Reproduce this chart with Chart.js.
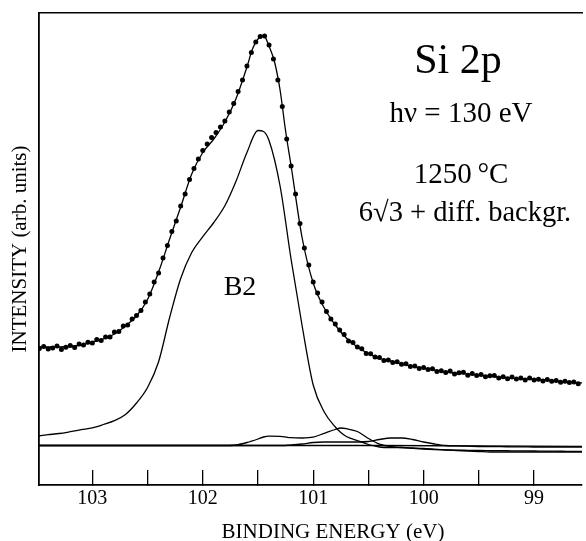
<!DOCTYPE html>
<html>
<head>
<meta charset="utf-8">
<script src="https://cdn.jsdelivr.net/npm/chart.js@4.4.1/dist/chart.umd.min.js"></script>
<style>
  html, body { margin: 0; padding: 0; background: #fff; }
  #chart { display: block; }
</style>
</head>
<body>
<canvas id="chart" width="586" height="541"></canvas>
<script>
// measured points, binding energy (eV)
const dotEnergies = [
  103.48, 103.44, 103.40, 103.36, 103.32, 103.28, 103.24, 103.20, 103.16, 103.12,
  103.08, 103.04, 103.00, 102.96, 102.92, 102.88, 102.84, 102.80, 102.76, 102.72,
  102.68, 102.64, 102.60, 102.56, 102.52, 102.48, 102.44, 102.40, 102.36, 102.32,
  102.28, 102.24, 102.20, 102.16, 102.12, 102.08, 102.04, 102.00, 101.96, 101.92,
  101.88, 101.84, 101.80, 101.76, 101.72, 101.68, 101.64, 101.60, 101.56, 101.52,
  101.48, 101.44, 101.40, 101.36, 101.32, 101.28, 101.24, 101.20, 101.16, 101.12,
  101.08, 101.04, 101.00, 100.96, 100.92, 100.88, 100.84, 100.80, 100.76, 100.72,
  100.68, 100.64, 100.60, 100.56, 100.52, 100.48, 100.44, 100.40, 100.36, 100.32,
  100.28, 100.24, 100.20, 100.16, 100.12, 100.08, 100.04, 100.00, 99.96, 99.92,
  99.88, 99.84, 99.80, 99.76, 99.72, 99.68, 99.64, 99.60, 99.56, 99.52,
  99.48, 99.44, 99.40, 99.36, 99.32, 99.28, 99.24, 99.20, 99.16, 99.12,
  99.08, 99.04, 99.00, 98.96, 98.92, 98.88, 98.84, 98.80, 98.76, 98.72,
  98.68, 98.64, 98.60
];
const dotIntensity = [
  97, 99, 96.5, 97.5, 99.5, 96, 98.3, 100, 98, 101.5,
  100.5, 103.3, 102.5, 106, 105, 108.5, 108.5, 113.5, 114, 119.5,
  120.5, 126.5, 130, 135, 143.5, 151.5, 163.5, 172.5, 187.5, 200,
  214, 224.5, 239.5, 251.5, 266, 277, 286.5, 295, 301.5, 308,
  313, 318.5, 324.5, 333.5, 342, 354, 365.5, 379.5, 393, 403.5,
  409, 409.5, 400.5, 386.5, 365.5, 339, 306.5, 279.5, 251.5, 222,
  197.5, 180.5, 163.5, 152.5, 143.5, 134, 126.5, 121.5, 115.5, 111,
  104.5, 103, 98.5, 96.8, 92, 91.8, 88.4, 88, 85, 85.5,
  83, 83.8, 81.2, 81.8, 78.9, 79.4, 77, 78.1, 75.9, 76.7,
  73.9, 74.7, 73, 74.6, 71.6, 72.7, 73.2, 70.3, 71.9, 70,
  71.1, 68.7, 69.8, 69.9, 67.5, 68.7, 66.8, 68.4, 66.6, 67.4,
  65.6, 67.4, 65.6, 66.3, 64.5, 66.1, 64.3, 65, 63.2, 64.3,
  63, 63.6, 61.8
];

// total fit
const fitEnergies = [
  103.5, 103.4, 103.3, 103.2, 103.1, 103.0, 102.9, 102.8, 102.7, 102.6,
  102.5, 102.4, 102.3, 102.2, 102.1, 102.0, 101.9, 101.8, 101.7, 101.6,
  101.55, 101.5, 101.45, 101.4, 101.35, 101.3, 101.25, 101.2, 101.1, 101.0,
  100.9, 100.8, 100.7, 100.6, 100.5, 100.4, 100.3, 100.2, 100.0, 99.8,
  99.6, 99.4, 99.2, 99.0, 98.8, 98.6, 98.5
];
const fitIntensity = [
  98.5, 98.5, 98.5, 99, 100.5, 103.5, 106.5, 111.5, 119.5, 129.5,
  146, 173.5, 206.5, 238.5, 271.5, 293, 306.5, 323.5, 346.5, 378.5,
  396.5, 406.5, 410, 399.5, 383.5, 355.5, 314.5, 279.5, 207.5, 162.5,
  137.5, 120.5, 107.5, 98.5, 91.8, 87, 84.5, 81.7, 77.1, 73.5,
  71.3, 69.3, 67.4, 66.1, 64.5, 62.8, 62.3
];

// fit components
const compEnergies = [
  103.5, 103.4, 103.3, 103.2, 103.1, 103.0, 102.9, 102.8, 102.7, 102.6,
  102.5, 102.4, 102.3, 102.2, 102.1, 102.0, 101.9, 101.8, 101.7, 101.6,
  101.5, 101.45, 101.4, 101.3, 101.2, 101.1, 101.0, 100.9, 100.8, 100.75,
  100.7, 100.6, 100.5, 100.4, 100.3, 100.2, 100.1, 100.0, 99.9, 99.8,
  99.7, 99.6, 99.5, 99.4, 99.3, 99.2, 99.1, 99.0, 98.9, 98.8,
  98.7, 98.6, 98.5
];
const b2Intensity = [
  9.5, 10.8, 12, 13.8, 15.8, 17.7, 21, 24.8, 31, 42.5,
  58, 83.8, 128, 167, 193, 208.8, 223, 239.7, 264, 293,
  315, 314, 305, 259.5, 186, 119.5, 60.5, 33.5, 18.5, 13,
  9, 5, 1, -1.5, -2, -2, -2.5, -3, -3.8, -4.5,
  -5, -5.5, -6, -6.5, -6.5, -6.5, -6.5, -6.5, -6.5, -6.5,
  -6.5, -6.5, -6.5
];
const s1Intensity = [
  0, 0, 0, 0, 0, 0, 0, 0, 0, 0,
  0, 0, 0, 0, 0, 0, 0, 0, 0.5, 3,
  6.5, 8.5, 9.3, 9.2, 7.8, 7.5, 8.3, 12.2, 16, 17.5,
  16.8, 14, 7, 1.3, -1, -2, -2.8, -3.5, -4, -4.3,
  -4.6, -4.8, -5, -5.1, -5.2, -5.3, -5.4, -5.5, -5.6, -5.7,
  -5.8, -5.9, -6
];
const s2Intensity = [
  0, 0, 0, 0, 0, 0, 0, 0, 0, 0,
  0, 0, 0, 0, 0, 0, 0, 0, 0, 0,
  0, 0, 0, 0, 0.5, 1.5, 3, 3.5, 3.5, 3.5,
  3.5, 3.5, 4, 6, 7.5, 7.5, 6, 3.5, 1.5, 0,
  -0.4, -0.7, -1, -1.1, -1.2, -1.3, -1.4, -1.5, -1.5, -1.5,
  -1.5, -1.5, -1.5
];
const bgEnergies = [103.5, 100.4, 98.5];
const bgIntensity = [0, 0, -1];

const tickValues = [99, 99.5, 100, 100.5, 101, 101.5, 102, 102.5, 103];

const SERIF = '"Liberation Serif", "Times New Roman", Times, serif';
const X_MIN = 98.566;
const X_MAX = 103.483;

function points(xs, ys) {
  return xs.map((x, i) => ({ x: x, y: ys[i] }));
}

function curve(label, xs, ys) {
  return {
    label: label,
    data: points(xs, ys),
    borderColor: '#000',
    borderWidth: 1.3,
    pointRadius: 0,
    fill: false,
    cubicInterpolationMode: 'monotone',
  };
}

// free text on the plot
const textPlugin = {
  id: 'plotText',
  afterDraw(chart) {
    const ctx = chart.ctx;
    ctx.save();
    ctx.fillStyle = '#000';
    ctx.textAlign = 'center';
    ctx.textBaseline = 'alphabetic';
    const put = (text, size, x, y) => {
      ctx.font = size + 'px ' + SERIF;
      ctx.fillText(text, x, y);
    };
    put('Si 2p', 42, 458, 73);
    put('hν = 130 eV', 29, 461, 122);
    put('1250\u2009°C', 29, 461, 183);
    put('6√3 + diff. backgr.', 28.5, 465, 221);
    put('B2', 28, 240, 295);
    put('BINDING ENERGY (eV)', 21, 333, 538);
    ctx.restore();
  },
};

Chart.defaults.font.family = SERIF;
Chart.defaults.color = '#000';

new Chart(document.getElementById('chart'), {
  type: 'line',
  data: {
    datasets: [
      {
        label: 'data',
        data: points(dotEnergies, dotIntensity),
        showLine: false,
        pointRadius: 2.5,
        pointBackgroundColor: '#000',
        pointBorderWidth: 0,
      },
      curve('fit', fitEnergies, fitIntensity),
      curve('B2', compEnergies, b2Intensity),
      curve('S1', compEnergies, s1Intensity),
      curve('S2', compEnergies, s2Intensity),
      Object.assign(curve('background', bgEnergies, bgIntensity), { cubicInterpolationMode: 'default', tension: 0 }),
    ],
  },
  options: {
    responsive: false,
    animation: false,
    devicePixelRatio: 1,
    layout: { padding: 0 },
    plugins: {
      legend: { display: false },
      tooltip: { enabled: false },
    },
    scales: {
      x: {
        type: 'linear',
        position: 'bottom',
        reverse: true,
        min: X_MIN,
        max: X_MAX,
        border: { display: true, color: '#000', width: 1.8 },
        grid: {
          drawOnChartArea: false,
          drawTicks: true,
          tickLength: -15,
          color: '#000',
          lineWidth: 1.3,
        },
        ticks: {
          autoSkip: false,
          maxRotation: 0,
          padding: 17,
          font: { size: 20 },
          color: '#000',
          callback: (v) => (Number.isInteger(v) ? String(v) : ''),
        },
        afterBuildTicks: (s) => {
          s.ticks = tickValues.map((v) => ({ value: v }));
        },
        afterFit: (s) => {
          s.height = 56;
        },
      },
      xTop: {
        type: 'linear',
        position: 'top',
        reverse: true,
        min: X_MIN,
        max: X_MAX,
        border: { display: true, color: '#000', width: 1.5 },
        grid: { drawOnChartArea: false, drawTicks: false },
        ticks: { display: false },
        afterFit: (s) => {
          s.height = 13;
        },
      },
      y: {
        type: 'linear',
        position: 'left',
        min: -39.5,
        max: 432.5,
        border: { display: true, color: '#000', width: 1.8 },
        grid: { drawOnChartArea: false, drawTicks: false },
        ticks: { display: false },
        title: {
          display: true,
          text: 'INTENSITY (arb. units)',
          font: { size: 21 },
          color: '#000',
          padding: { top: 8, bottom: 0 },
        },
        afterFit: (s) => {
          s.width = 39;
        },
      },
    },
  },
  plugins: [textPlugin],
});
</script>
</body>
</html>
